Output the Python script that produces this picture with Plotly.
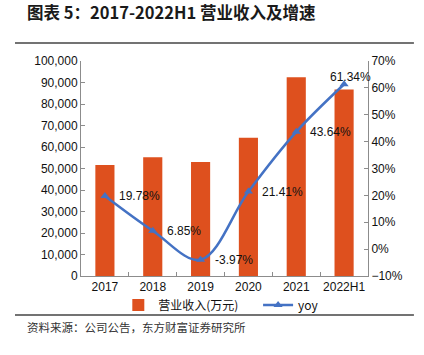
import plotly.graph_objects as go

years = ["2017", "2018", "2019", "2020", "2021", "2022H1"]
revenue = [51600, 55200, 53000, 64300, 92400, 86800]
yoy = [19.78, 6.85, -3.97, 21.41, 43.64, 61.34]
yoy_labels = ["19.78%", "6.85%", "-3.97%", "21.41%", "43.64%", "61.34%"]

title_text = "图表 5：2017-2022H1 营业收入及增速"
source_text = "资料来源：公司公告，东方财富证券研究所"
bar_name = "营业收入(万元)"
line_name = "yoy"

BAR_COLOR = "#DE501E"
LINE_COLOR = "#4472C4"
AXIS_COLOR = "#8C8C8C"
FONT = "Liberation Sans, Arial, Noto Sans CJK SC, sans-serif"
CJK_FONT = "Noto Sans CJK SC, sans-serif"

xpos = list(range(len(years)))
boundaries = [i + 0.5 for i in range(len(years) - 1)]

fig = go.Figure()
fig.add_trace(go.Bar(x=xpos, y=revenue, name=bar_name,
                     marker=dict(color=BAR_COLOR, line=dict(width=0)),
                     yaxis="y", legend="legend"))
fig.add_trace(go.Scatter(x=xpos, y=yoy, name=line_name, mode="lines+markers",
                         line=dict(color=LINE_COLOR, width=2.5, shape="spline", smoothing=1),
                         marker=dict(symbol="triangle-up", size=8, color=LINE_COLOR),
                         yaxis="y2", legend="legend2"))

annotations = []
for i, (v, t) in enumerate(zip(yoy, yoy_labels)):
    last = i == len(years) - 1
    annotations.append(dict(x=xpos[i], y=v, xref="x", yref="y2", text=t, showarrow=False,
                            xanchor="center" if last else "left",
                            yanchor="middle",
                            xshift=6 if last else 12, yshift=7 if last else 0,
                            font=dict(family=FONT, size=12, color="#111")))

annotations.append(dict(x=-0.19, y=1.2302, xref="paper", yref="paper", text="<b>" + title_text + "</b>",
                        showarrow=False, xanchor="left", yanchor="middle", borderpad=0,
                        font=dict(family=CJK_FONT, size=16.5, color="#1a1a1a")))
annotations.append(dict(x=-0.195, y=-0.237, xref="paper", yref="paper", text=source_text,
                        showarrow=False, xanchor="left", yanchor="middle",
                        font=dict(family=CJK_FONT, size=11.5, color="#333")))

shapes = [
    dict(type="line", xref="paper", yref="paper", x0=-0.23, x1=1.16, y0=1.0837, y1=1.0837,
         line=dict(color="#444", width=1.5)),
    dict(type="line", xref="paper", yref="paper", x0=-0.23, x1=1.16, y0=-0.181, y1=-0.181,
         line=dict(color="#444", width=1.5)),
]

legend_style = dict(orientation="h", yanchor="middle", y=-0.135, xanchor="left",
                    font=dict(family=CJK_FONT, size=12, color="#111"),
                    itemwidth=30, bgcolor="rgba(0,0,0,0)")

fig.update_layout(
    width=424, height=355,
    margin=dict(l=81, r=56, t=61, b=79),
    paper_bgcolor="white", plot_bgcolor="white",
    font=dict(family=FONT, size=12, color="#111"),
    bargap=0.6,
    showlegend=True,
    legend=dict(x=0.13, **legend_style),
    legend2=dict(x=0.617, **legend_style),
    xaxis=dict(range=[-0.5, len(years) - 0.5], tickmode="array", tickvals=xpos, ticktext=years,
               showline=True, linecolor=AXIS_COLOR, linewidth=1, ticks="",
               minor=dict(tickmode="array", tickvals=boundaries, ticks="inside", ticklen=4,
                          tickcolor=AXIS_COLOR, showgrid=False),
               showgrid=False, zeroline=False, tickfont=dict(size=12, color="#111")),
    yaxis=dict(range=[0, 100000], dtick=10000, tickformat=",d", showline=True,
               linecolor=AXIS_COLOR, linewidth=1, ticks="inside", ticklen=4,
               tickcolor=AXIS_COLOR, showgrid=False, zeroline=False,
               tickfont=dict(size=12, color="#111")),
    yaxis2=dict(range=[-10, 70], dtick=10, ticksuffix="%", overlaying="y", side="right",
                showline=True, linecolor=AXIS_COLOR, linewidth=1, ticks="inside",
                ticklen=4, tickcolor=AXIS_COLOR, showgrid=False, zeroline=False,
                tickfont=dict(size=12, color="#111")),
    annotations=annotations,
    shapes=shapes,
)

fig.write_html("out.html", config={"displayModeBar": False},
               post_script="document.body.style.margin='0';document.body.style.overflow='hidden';")
